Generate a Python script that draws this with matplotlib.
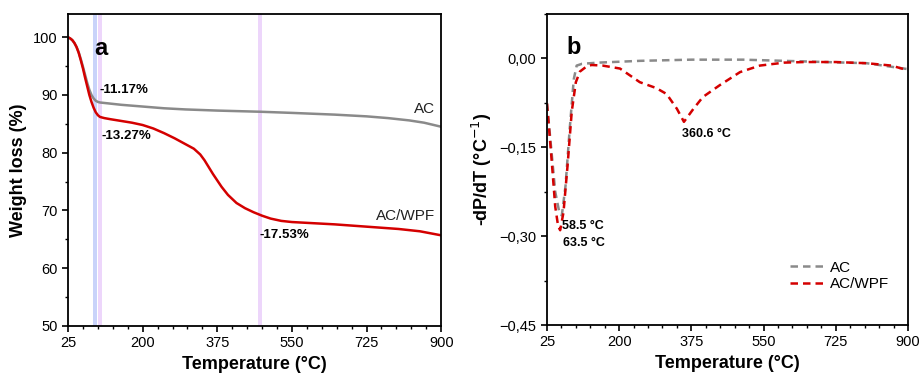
import matplotlib
matplotlib.use("Agg")
import matplotlib.pyplot as plt
from matplotlib.ticker import AutoMinorLocator, FuncFormatter

plt.rcParams["font.family"] = ["Liberation Sans", "DejaVu Sans"]

# (a) TG curves
t_ac = [25, 30, 35, 40, 45, 50, 55, 60, 65, 70, 75, 80, 85, 90, 95, 100, 125, 150, 200, 250, 300,
        375, 475, 550, 650, 725, 775, 825, 860, 900]
w_ac = [100, 99.8, 99.5, 99.0, 98.3, 97.4, 96.2, 94.9, 93.5, 92.1, 90.9, 90.0, 89.4, 89.0, 88.8, 88.7,
        88.5, 88.3, 88.0, 87.7, 87.5, 87.3, 87.1, 86.9, 86.6, 86.3, 86.0, 85.6, 85.2, 84.5]
t_wpf = [25, 30, 35, 40, 45, 50, 55, 60, 65, 70, 75, 80, 85, 90, 95, 100, 110, 125, 150, 175, 200,
         225, 250, 275, 300, 320, 335, 345, 355, 365, 375, 385, 400, 420, 440, 460, 480, 500, 525,
         550, 600, 650, 725, 800, 850, 900]
w_wpf = [100, 99.8, 99.5, 99.0, 98.3, 97.3, 96.0, 94.6, 93.0, 91.5, 90.0, 88.8, 87.8, 87.0, 86.5,
         86.2, 86.0, 85.8, 85.5, 85.2, 84.8, 84.2, 83.4, 82.5, 81.5, 80.7, 79.7, 78.7, 77.5, 76.3,
         75.2, 74.1, 72.7, 71.3, 70.4, 69.7, 69.1, 68.6, 68.2, 68.0, 67.8, 67.6, 67.2, 66.8, 66.4,
         65.7]
bands = [(84, 93, "#c9d3fa"), (95, 104, "#edd6fb"), (470, 481, "#edd6fb")]

# (b) DTG curves
dt_ac = [25, 35, 45, 55, 61, 70, 80, 90, 97, 110, 150, 250, 375, 500, 600, 700, 800, 900]
d_ac = [-0.076, -0.150, -0.225, -0.260, -0.265, -0.215, -0.120, -0.035, -0.012, -0.009, -0.007,
        -0.004, -0.002, -0.002, -0.004, -0.006, -0.008, -0.018]
dt_wpf = [25, 35, 45, 52, 57, 65, 75, 85, 95, 105, 120, 133, 160, 202, 250, 290, 315, 340, 357, 380,
          403, 444, 493, 541, 600, 650, 725, 800, 860, 900]
d_wpf = [-0.076, -0.160, -0.250, -0.283, -0.290, -0.260, -0.180, -0.090, -0.040, -0.022, -0.014,
         -0.011, -0.012, -0.017, -0.040, -0.050, -0.060, -0.085, -0.107, -0.085, -0.065, -0.045,
         -0.023, -0.012, -0.007, -0.006, -0.006, -0.008, -0.012, -0.020]

xticks = [25, 200, 375, 550, 725, 900]
gray = "#8a8a8a"
red = "#d40000"

fig = plt.figure(figsize=(9.23, 3.82), dpi=100)
ax1 = fig.add_axes([0.0737, 0.1466, 0.4043, 0.8164])
ax2 = fig.add_axes([0.5926, 0.1492, 0.3911, 0.8140])

for lo, hi, c in bands:
    ax1.axvspan(lo, hi, color=c, lw=0, zorder=0)
ax1.plot(t_ac, w_ac, color=gray, lw=1.8)
ax1.plot(t_wpf, w_wpf, color=red, lw=1.8)
ax1.set_xlim(25, 900)
ax1.set_ylim(50, 104)
ax1.set_yticks([50, 60, 70, 80, 90, 100])
ax1.text(86, 98, "a", fontsize=17, fontweight="bold", va="center")
ax1.text(98, 90.8, "-11.17%", fontsize=9.5, fontweight="bold", va="center")
ax1.text(103, 82.9, "-13.27%", fontsize=9.5, fontweight="bold", va="center")
ax1.text(474, 65.7, "-17.53%", fontsize=9.5, fontweight="bold", va="center")
ax1.text(885, 87.5, "AC", fontsize=11, ha="right", va="center", color="#222222")
ax1.text(885, 69.0, "AC/WPF", fontsize=11, ha="right", va="center", color="#222222")
ax1.set_ylabel("Weight loss (%)", fontsize=13, fontweight="bold")

ax2.plot(dt_ac, d_ac, color=gray, lw=1.8, ls=(0, (3, 2)), label="AC")
ax2.plot(dt_wpf, d_wpf, color=red, lw=1.8, ls=(0, (3, 2)), label="AC/WPF")
ax2.set_xlim(25, 900)
ax2.set_ylim(-0.45, 0.075)
ax2.set_yticks([-0.45, -0.30, -0.15, 0.0])
ax2.yaxis.set_major_formatter(FuncFormatter(
    lambda v, p: ("\u2212" if v < -1e-9 else "") + f"{abs(v):.2f}".replace(".", ",")))
ax2.text(72, 0.019, "b", fontsize=17, fontweight="bold", va="center")
ax2.text(61, -0.283, "58.5 °C", fontsize=9, fontweight="bold", va="center")
ax2.text(64, -0.311, "63.5 °C", fontsize=9, fontweight="bold", va="center")
ax2.text(353, -0.127, "360.6 °C", fontsize=9, fontweight="bold", va="center")
ax2.set_ylabel("-dP/dT (°C$^{-1}$)", fontsize=13, fontweight="bold")
ax2.legend(loc="lower right", bbox_to_anchor=(0.985, 0.065), frameon=False, fontsize=11,
           handlelength=2.4, handletextpad=0.2, labelspacing=0.15)

for ax in (ax1, ax2):
    ax.set_xticks(xticks)
    ax.xaxis.set_minor_locator(AutoMinorLocator(5))
    ax.yaxis.set_minor_locator(AutoMinorLocator(2))
    ax.tick_params(which="major", direction="out", length=4, width=1.2, labelsize=10.5)
    ax.tick_params(which="minor", direction="out", length=2.5, width=1)
    for s in ax.spines.values():
        s.set_linewidth(1.3)
    ax.set_xlabel("Temperature (°C)", fontsize=13, fontweight="bold")

fig.savefig("out.png", dpi=100)
